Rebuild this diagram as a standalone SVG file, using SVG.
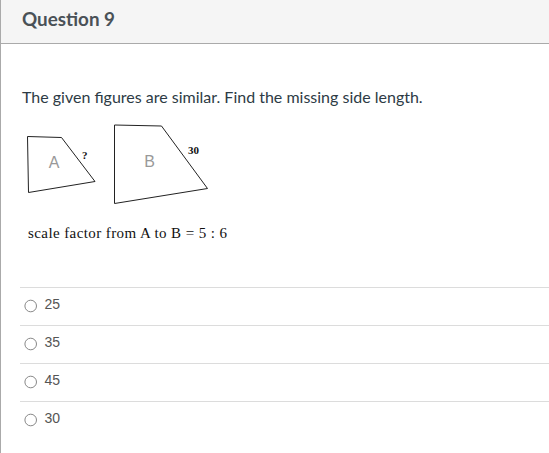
<svg xmlns="http://www.w3.org/2000/svg" width="549" height="453" viewBox="0 0 549 453">
<style>
.fig{fill:#fff;stroke:#222;stroke-width:1}
.lbl{font-family:"Liberation Sans",Arial,sans-serif;font-size:16px;fill:#999}
.side{font-family:"Liberation Serif","Times New Roman",serif;font-size:11px;font-weight:bold;fill:#111}
.sep{stroke:#dcdcdc;stroke-width:1}
.radio{fill:#fff;stroke:#888;stroke-width:1}
.opt{font-family:"Liberation Sans",Arial,sans-serif;font-size:14px;fill:#555}
</style>
<rect x="0" y="0" width="549" height="453" fill="#fff"/>
<g id="header">
<rect x="0" y="0" width="549" height="43" fill="#f5f5f5"/>
<line x1="0" y1="43.5" x2="549" y2="43.5" stroke="#aaa" stroke-width="1"/>
<text x="22" y="25.5" font-family="Lato,sans-serif" font-size="19" font-weight="bold" fill="#4a5157" textLength="93" lengthAdjust="spacingAndGlyphs">Question 9</text>
</g>
<line x1="0.5" y1="0" x2="0.5" y2="453" stroke="#aaa" stroke-width="1"/>
<text x="22" y="103" font-family="Lato,sans-serif" font-size="16" fill="#2d3b45">The given figures are similar. Find the missing side length.</text>
<g id="figA">
<polygon class="fig" points="27.5,136.5 61.5,137.5 95,181.5 28.5,192.5"/>
<text class="lbl" x="54" y="168" text-anchor="middle">A</text>
<text class="side" x="82" y="159">?</text>
</g>
<g id="figB">
<polygon class="fig" points="114.5,125 161.5,126 207.5,188.5 114.5,203.5"/>
<text class="lbl" x="149.5" y="167" text-anchor="middle">B</text>
<text class="side" x="188" y="154">30</text>
</g>
<text x="28" y="238" font-family="Liberation Serif,'Times New Roman',serif" font-size="15" fill="#111" textLength="199" lengthAdjust="spacing">scale factor from A to B = 5 : 6</text>
<g id="options">
<line class="sep" x1="20" y1="287.5" x2="549" y2="287.5"/>
<line class="sep" x1="20" y1="325.5" x2="549" y2="325.5"/>
<line class="sep" x1="20" y1="363.5" x2="549" y2="363.5"/>
<line class="sep" x1="20" y1="401.5" x2="549" y2="401.5"/>
<circle class="radio" cx="30.7" cy="306" r="5.8"/>
<circle class="radio" cx="30.7" cy="344" r="5.8"/>
<circle class="radio" cx="30.7" cy="382" r="5.8"/>
<circle class="radio" cx="30.7" cy="420" r="5.8"/>
<text class="opt" x="44.5" y="309">25</text>
<text class="opt" x="44.5" y="347">35</text>
<text class="opt" x="44.5" y="385">45</text>
<text class="opt" x="44.5" y="423">30</text>
</g>
</svg>
